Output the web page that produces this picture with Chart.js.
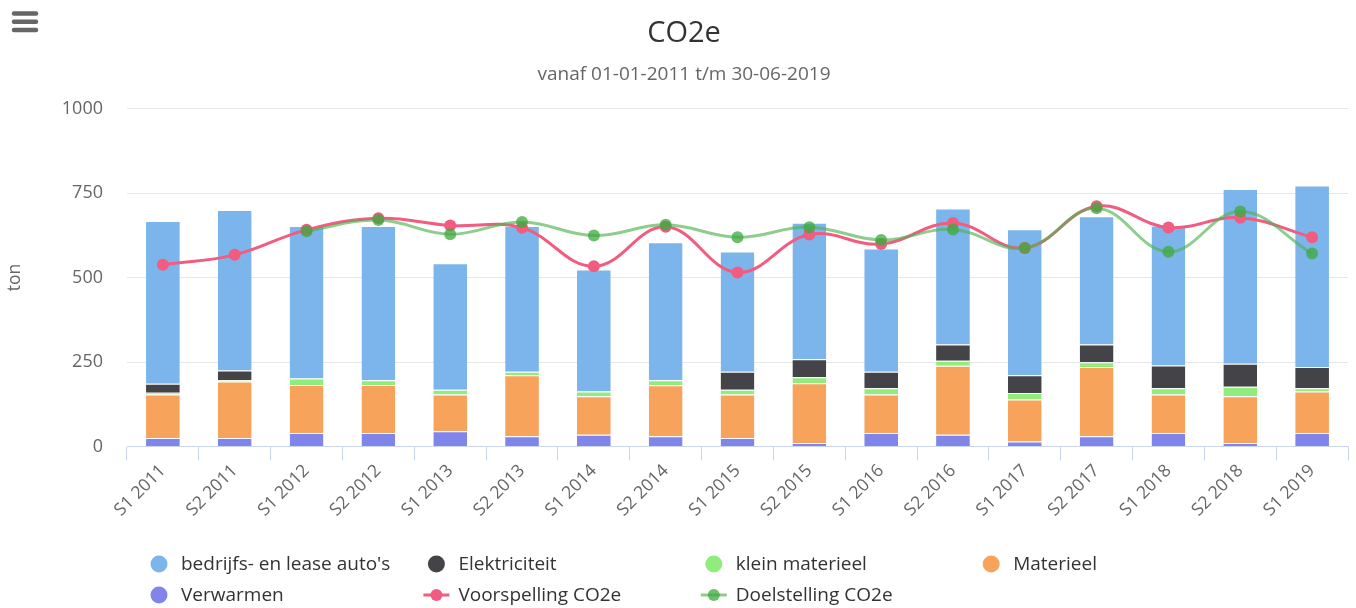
<!DOCTYPE html>
<html>
<head>
<meta charset="utf-8">
<script src="https://cdn.jsdelivr.net/npm/chart.js@4"></script>
<style>
  html, body { margin: 0; padding: 0; background: #fff; }
  #wrap { width: 1356px; height: 608px; }
</style>
</head>
<body>
<div id="wrap"><canvas id="c" width="1356" height="608"></canvas></div>
<script>
const categories = ['S1 2011','S2 2011','S1 2012','S2 2012','S1 2013','S2 2013','S1 2014','S2 2014','S1 2015','S2 2015','S1 2016','S2 2016','S1 2017','S2 2017','S1 2018','S2 2018','S1 2019'];
const verwarmen      = [25, 25, 40, 40, 45, 30, 35, 30, 25, 10, 40, 35, 15, 30, 40, 10, 40];
const materieel      = [129,167,142,142,109,181,114,151,129,177,114,204,124,205,114,139,123];
const kleinMaterieel = [5, 5, 19, 14, 14, 10, 14, 15, 14, 18, 18, 15, 19, 14, 18, 28, 9];
const elektriciteit  = [27, 28, 0, 0, 0, 0, 0, 0, 53, 53, 49, 48, 53, 53, 68, 68, 63];
const bedrijfsAutos  = [481,475,451,456,374,431,361,408,356,404,365,402,432,379,414,517,537];
const voorspelling   = [538,567,641,675,654,647,533,650,515,627,599,661,587,711,648,677,619];
const doelstelling   = [null,null,637,670,628,664,624,656,619,649,611,642,587,705,576,695,571];
const yTicks = [0, 250, 500, 750, 1000];

const FONT = "'Open Sans', 'Noto Sans', sans-serif";
Chart.defaults.font.family = FONT;

const barCommon = {
  type: 'bar',
  barPercentage: 0.47,
  categoryPercentage: 1,
  borderColor: '#ffffff',
  borderWidth: { top: 1, left: 0, right: 0, bottom: 0 },
  borderSkipped: false,
  stack: 'co2'
};

const legendOrder = [4, 3, 2, 1, 0, 5, 6];

const customLegend = {
  id: 'customLegend',
  afterDraw(chart) {
    const ctx = chart.ctx;
    ctx.save();
    ctx.font = '19px ' + FONT;
    ctx.textBaseline = 'middle';
    ctx.textAlign = 'left';
    legendOrder.forEach((di, i) => {
      const ds = chart.data.datasets[di];
      const col = i % 4, row = Math.floor(i / 4);
      const cx = 159 + col * 277.4;
      const cy = 564 + row * 31;
      if (ds.type === 'bar') {
        ctx.fillStyle = ds.backgroundColor;
        ctx.beginPath(); ctx.arc(cx, cy, 8.5, 0, Math.PI * 2); ctx.fill();
      } else {
        ctx.strokeStyle = ds.borderColor;
        ctx.lineWidth = 3;
        ctx.beginPath(); ctx.moveTo(cx - 13, cy); ctx.lineTo(cx + 13, cy); ctx.stroke();
        ctx.fillStyle = ds.pointBackgroundColor;
        ctx.beginPath(); ctx.arc(cx, cy, 6, 0, Math.PI * 2); ctx.fill();
      }
      ctx.fillStyle = '#333333';
      ctx.fillText(ds.label, cx + 22, cy + 0.5);
    });
    // menu icon
    ctx.strokeStyle = '#666666';
    ctx.lineWidth = 4.5;
    ctx.lineCap = 'round';
    [13.5, 21.7, 30].forEach(y => {
      ctx.beginPath(); ctx.moveTo(14, y); ctx.lineTo(36, y); ctx.stroke();
    });
    ctx.restore();
  }
};

new Chart(document.getElementById('c'), {
  data: {
    labels: categories,
    datasets: [
      Object.assign({ label: 'Verwarmen', data: verwarmen, backgroundColor: '#8085e9' }, barCommon),
      Object.assign({ label: 'Materieel', data: materieel, backgroundColor: '#f7a35c' }, barCommon),
      Object.assign({ label: 'klein materieel', data: kleinMaterieel, backgroundColor: '#90ed7d' }, barCommon),
      Object.assign({ label: 'Elektriciteit', data: elektriciteit, backgroundColor: '#434348' }, barCommon),
      Object.assign({ label: "bedrijfs- en lease auto's", data: bedrijfsAutos, backgroundColor: '#7cb5ec' }, barCommon),
      {
        type: 'line', label: 'Voorspelling CO2e', data: voorspelling,
        borderColor: '#f15c80', borderWidth: 3, tension: 0.4,
        pointRadius: 6, pointBackgroundColor: '#f15c80', pointBorderWidth: 0,
        stack: 'voorspelling', order: -1, fill: false
      },
      {
        type: 'line', label: 'Doelstelling CO2e', data: doelstelling,
        borderColor: 'rgba(80,180,80,0.65)', borderWidth: 3, tension: 0.4,
        pointRadius: 6, pointBackgroundColor: 'rgba(60,170,60,0.75)', pointBorderWidth: 0,
        stack: 'doel', order: -2, fill: false, spanGaps: false
      }
    ]
  },
  options: {
    responsive: false,
    animation: false,
    devicePixelRatio: 1,
    events: [],
    layout: { padding: { left: 20, right: 8, top: 0, bottom: 71.5 } },
    plugins: {
      legend: { display: false },
      tooltip: { enabled: false },
      title: {
        display: true, text: 'CO2e', color: '#333333',
        font: { size: 29, weight: 'normal', family: FONT },
        padding: { top: 16.5, bottom: 0 }
      },
      subtitle: {
        display: true, text: 'vanaf 01-01-2011 t/m 30-06-2019', color: '#666666',
        font: { size: 19, weight: 'normal', family: FONT },
        padding: { top: 11.6, bottom: 22.8 }
      }
    },
    scales: {
      x: {
        stacked: true,
        offset: true,
        grid: { display: true, offset: true, drawOnChartArea: false, drawTicks: true, tickLength: 14, color: '#ccd6eb', lineWidth: 1 },
        border: { display: true, color: '#ccd6eb', width: 1 },
        ticks: { color: '#666666', font: { size: 17.5 }, minRotation: 45, maxRotation: 45, autoSkip: false, padding: 0 },
        afterFit(s) { s.height = 90; }
      },
      y: {
        stacked: true,
        min: 0, max: 1000,
        afterBuildTicks(s) { s.ticks = yTicks.map(v => ({ value: v })); },
        ticks: { color: '#666666', font: { size: 18 }, padding: 24, callback: v => String(v) },
        grid: { color: '#e6e6e6', drawTicks: false, lineWidth: 1 },
        border: { display: false },
        title: { display: true, text: 'ton', color: '#666666', font: { size: 17.5 }, padding: { top: -15, bottom: 0 } },
        afterFit(s) { s.width = 107; }
      }
    }
  },
  plugins: [customLegend]
});
</script>
</body>
</html>
